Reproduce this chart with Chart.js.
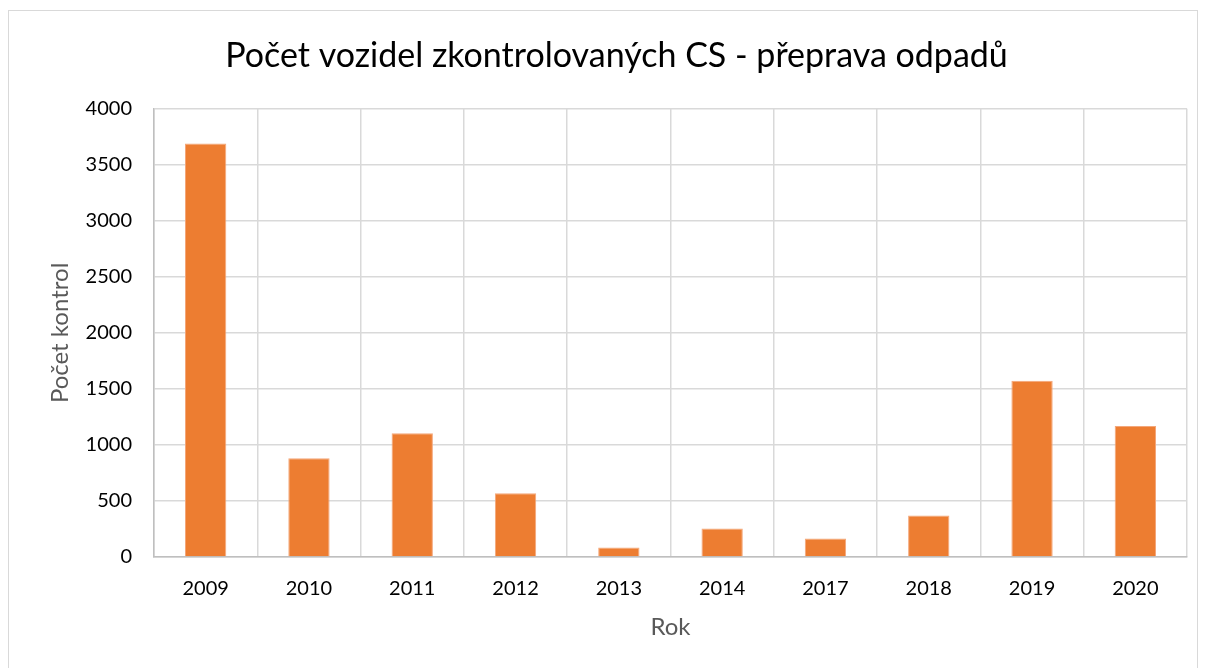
<!DOCTYPE html>
<html>
<head>
<meta charset="utf-8">
<script src="https://cdn.jsdelivr.net/npm/chart.js@4"></script>
<style>
  body { margin: 0; background: #fff; }
  #wrap { position: relative; width: 1206px; height: 668px; overflow: hidden; }
  #frame { position: absolute; left: 8px; top: 10px; width: 1190px; height: 700px; border: 1.5px solid #d9d9d9; box-sizing: border-box; }
  canvas { position: absolute; left: 0; top: 0; }
</style>
</head>
<body>
<div id="wrap">
  <div id="frame"></div>
  <canvas id="myChart" width="1206" height="668"></canvas>
</div>
<script>
// data
var years = ['2009', '2010', '2011', '2012', '2013', '2014', '2017', '2018', '2019', '2020'];
var controls = [3690, 881, 1105, 570, 84, 254, 165, 371, 1573, 1170];
var yTicks = [0, 500, 1000, 1500, 2000, 2500, 3000, 3500, 4000];

var font = "Lato, 'Open Sans', sans-serif";

var ctx = document.getElementById('myChart').getContext('2d');
var chart = new Chart(ctx, {
    type: 'bar',
    data: {
        labels: years,
        datasets: [{
            label: 'Počet kontrol',
            backgroundColor: '#ED7D31',
            borderColor: '#F4A77A',
            borderWidth: 1,
            data: controls,
            barPercentage: 0.4,
            categoryPercentage: 1
        }]
    },
    options: {
        responsive: false,
        animation: false,
        layout: { padding: { left: 46, right: 19, top: 20, bottom: 21 } },
        plugins: {
            legend: { display: false },
            tooltip: { enabled: false },
            title: {
                display: true,
                text: 'Počet vozidel zkontrolovaných CS - přeprava odpadů',
                color: '#000',
                font: { family: font, size: 34, weight: 'normal' },
                padding: { top: 16, bottom: 32 }
            }
        },
        scales: {
            x: {
                grid: { color: '#d9d9d9', lineWidth: 1.5, drawTicks: false, offset: true },
                border: { color: '#bfbfbf', width: 1.5 },
                ticks: { color: '#000', font: { family: font, size: 20 }, padding: 20 },
                title: { display: true, text: 'Rok', color: '#595959', font: { family: font, size: 24 }, padding: { top: 0, bottom: 5 } },
                afterFit: function (s) { s.height = 90; }
            },
            y: {
                min: 0,
                max: 4000,
                afterBuildTicks: function (s) { s.ticks = yTicks.map(function (v) { return { value: v }; }); },
                grid: { color: '#d9d9d9', lineWidth: 1.5, drawTicks: false },
                border: { color: '#bfbfbf', width: 1.5 },
                ticks: {
                    color: '#000',
                    font: { family: font, size: 20 },
                    padding: 22,
                    callback: function (v) { return String(v); }
                },
                title: { display: true, text: 'Počet kontrol', color: '#595959', font: { family: font, size: 24 }, padding: { top: 0, bottom: 0 } },
                afterFit: function (s) { s.width = 108; }
            }
        }
    }
});
</script>
</body>
</html>
